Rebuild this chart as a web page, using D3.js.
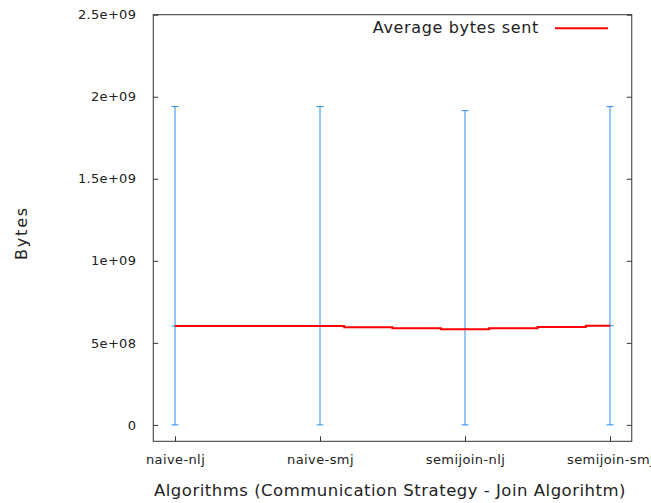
<!DOCTYPE html>
<html>
<head>
<meta charset="utf-8">
<script src="https://cdn.jsdelivr.net/npm/d3@7"></script>
<style>
  html, body { margin: 0; padding: 0; background: #fff; }
  svg { display: block; }
  text { font-family: "DejaVu Sans", sans-serif; fill: #222; }
</style>
</head>
<body>
<svg id="chart" width="651" height="503"></svg>
<script>
// Join algorithms measured
const categories = ["naive-nlj", "naive-smj", "semijoin-nlj", "semijoin-smj"];
// Mean bytes sent per algorithm (centre of each error bar)
const meanBytes = [6.03e8, 6.03e8, 5.83e8, 6.05e8];
// Error bar extents
const minBytes = [0, 0, 0, 0];
const maxBytes = [1.94e9, 1.94e9, 1.915e9, 1.94e9];
// Average-bytes line, drawn as steps: start position (category index) and level of each step
const avgStepX = [0, 1.1667, 1.5, 1.8333, 2.1667, 2.5, 2.8333, 3];
const avgStepY = [6.03e8, 5.95e8, 5.89e8, 5.83e8, 5.89e8, 5.97e8, 6.05e8, 6.05e8];
// Y axis ticks
const yTicks = [0, 5e8, 1e9, 1.5e9, 2e9, 2.5e9];
const yTickLabels = ["0", "5e+08", "1e+09", "1.5e+09", "2e+09", "2.5e+09"];

const svg = d3.select("#chart");
const plotLeft = 153.25, plotRight = 631.75, plotTop = 14.7, plotBottom = 441.3;

const x = d3.scaleLinear().domain([-0.15, 3.15]).range([plotLeft, plotRight]);
const y = d3.scaleLinear().domain([-1e8, 2.5e9]).range([plotBottom, plotTop]);

const axisColor = "#333";

// Left axis: inward ticks with labels
const yAxisL = d3.axisLeft(y).tickValues(yTicks)
  .tickFormat((d, i) => yTickLabels[i]).tickSizeInner(-5).tickSizeOuter(0).tickPadding(17);
const gl = svg.append("g").attr("transform", `translate(${plotLeft},0)`).call(yAxisL);
gl.select(".domain").remove();
gl.selectAll(".tick line").attr("stroke", axisColor);
gl.selectAll(".tick text").style("font-size", "13px").style("font-family", "DejaVu Sans")
  .attr("fill", "#222").style("letter-spacing", "0.3px");

// Right axis: mirrored inward ticks, no labels
const yAxisR = d3.axisRight(y).tickValues(yTicks).tickFormat("").tickSizeInner(-5).tickSizeOuter(0);
const gr = svg.append("g").attr("transform", `translate(${plotRight},0)`).call(yAxisR);
gr.select(".domain").remove();
gr.selectAll(".tick line").attr("stroke", axisColor);

// Bottom axis: category ticks
const xAxis = d3.axisBottom(x).tickValues(d3.range(categories.length))
  .tickFormat(i => categories[i]).tickSizeInner(-5).tickSizeOuter(0).tickPadding(13);
const gb = svg.append("g").attr("transform", `translate(0,${plotBottom})`).call(xAxis);
gb.select(".domain").remove();
gb.selectAll(".tick line").attr("stroke", axisColor);
gb.selectAll(".tick text").style("font-size", "13px").style("font-family", "DejaVu Sans")
  .attr("fill", "#222").style("letter-spacing", "0.4px");

// Frame
svg.append("rect").attr("x", plotLeft).attr("y", plotTop)
  .attr("width", plotRight - plotLeft).attr("height", plotBottom - plotTop)
  .attr("fill", "none").attr("stroke", axisColor).attr("stroke-width", 1);

// Error bars
const blue = "#2a8cf0";
const eb = svg.append("g").selectAll("g").data(categories).join("g");
eb.append("line")
  .attr("x1", (d, i) => x(i)).attr("x2", (d, i) => x(i))
  .attr("y1", (d, i) => y(minBytes[i])).attr("y2", (d, i) => y(maxBytes[i]))
  .attr("stroke", blue).attr("stroke-width", 1);
[minBytes, maxBytes, meanBytes].forEach(arr => {
  eb.append("line")
    .attr("x1", (d, i) => x(i) - 3.5).attr("x2", (d, i) => x(i) + 3.5)
    .attr("y1", (d, i) => y(arr[i])).attr("y2", (d, i) => y(arr[i]))
    .attr("stroke", blue).attr("stroke-width", 1);
});

// Average line
const line = d3.line().x((d, i) => x(avgStepX[i])).y(d => y(d)).curve(d3.curveStepAfter);
svg.append("path").attr("d", line(avgStepY))
  .attr("fill", "none").attr("stroke", "#ff0000").attr("stroke-width", 2);

// Legend
svg.append("text").attr("x", 539).attr("y", 33).attr("text-anchor", "end")
  .style("font-size", "16px").style("letter-spacing", "0.65px").text("Average bytes sent");
svg.append("line").attr("x1", 555).attr("x2", 608).attr("y1", 28.3).attr("y2", 28.3)
  .attr("stroke", "#ff0000").attr("stroke-width", 2);

// Axis titles
svg.append("text").attr("transform", "translate(27,233) rotate(-90)")
  .attr("text-anchor", "middle").style("font-size", "16px").style("letter-spacing", "1.8px").text("Bytes");
svg.append("text").attr("x", 390).attr("y", 496).attr("text-anchor", "middle")
  .style("font-size", "16.5px").style("letter-spacing", "0.5px")
  .text("Algorithms (Communication Strategy - Join Algorihtm)");
</script>
</body>
</html>
